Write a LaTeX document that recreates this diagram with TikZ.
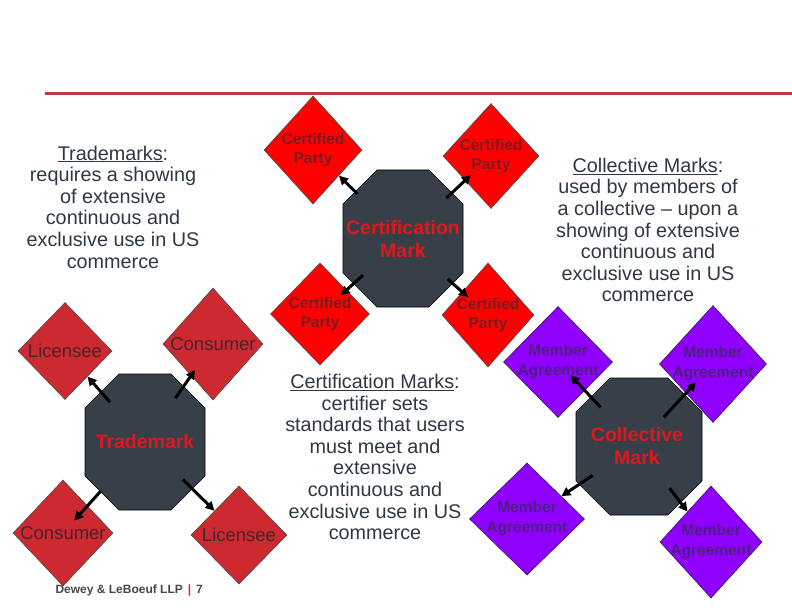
\documentclass[tikz,border=0pt]{standalone}
\usepackage{fontspec}
\setmainfont{Liberation Sans}
\usepackage{tikz}
\usetikzlibrary{positioning,arrows.meta,shapes.geometric}
\usepackage{xcolor}
\definecolor{rulered}{RGB}{192,57,60}
\definecolor{slate}{RGB}{55,64,72}
\definecolor{inkgray}{RGB}{46,56,68}
\definecolor{markred}{RGB}{222,24,30}
\definecolor{tmred}{RGB}{204,41,48}
\definecolor{tmink}{RGB}{72,36,46}
\definecolor{cpred}{RGB}{255,0,0}
\definecolor{cpink}{RGB}{125,26,34}
\definecolor{kmviolet}{RGB}{143,0,255}
\definecolor{kmink}{RGB}{78,32,128}

\begin{document}
\begin{tikzpicture}[x=1pt,y=-1pt,
  every node/.style={font=\fontsize{19.8}{21.6}\selectfont,text=inkgray},
  octo/.style={fill=slate,draw=black,line width=0.6pt},
  markname/.style={circle,minimum size=106pt,inner sep=0pt,align=center,text=markred,font=\fontsize{19.5}{23}\selectfont\bfseries},
  dia/.style={diamond,inner sep=0pt,line width=0.6pt},
  tmdia/.style={dia,draw=black!70,fill=tmred,minimum width=98pt,minimum height=102pt},
  cpdia/.style={dia,draw=black!70,fill=cpred,minimum width=96pt,minimum height=105pt},
  kmdia/.style={dia,draw=kmink!70!black,fill=kmviolet,minimum width=108pt,minimum height=112pt},
  tmlbl/.style={text=tmink,font=\fontsize{18.5}{20}\selectfont},
  cplbl/.style={text=cpink,align=center,font=\fontsize{15.5}{19.5}\selectfont\bfseries},
  kmlbl/.style={text=kmink,align=center,font=\fontsize{15.5}{20}\selectfont\bfseries},
  conn/.style={-{Triangle[length=9pt,width=9pt]},line width=3pt,black}]
\useasboundingbox (0,0) rectangle (792,612);
\draw[rulered,line width=3pt] (45,94) -- (792,94);

\node[align=center] (tmtext) at (113,207) {\underline{Trademarks}:\\requires a showing\\of extensive\\continuous and\\exclusive use in US\\commerce};
\node[align=center] (kmtext) at (648,230) {\underline{Collective Marks}:\\used by members of\\a collective -- upon a\\showing of extensive\\continuous and\\exclusive use in US\\commerce};
\node[align=center] (cmtext) at (375,457) {\underline{Certification Marks}:\\certifier sets\\standards that users\\must meet and\\extensive\\continuous and\\exclusive use in US\\commerce};

\fill[octo] (85,408) -- (119,374) -- (171,374) -- (205,408) -- (205,476) -- (171,510) -- (119,510) -- (85,476) -- cycle;
\node[markname] (tm) at (145,442) {Trademark};
\node[tmdia,minimum width=94pt,minimum height=97pt,label={[tmlbl]center:Licensee}] (lica) at (65,351) {};
\node[tmdia,minimum width=100pt,minimum height=112pt,label={[tmlbl]center:Consumer}] (cona) at (213,344) {};
\node[tmdia,minimum width=100pt,minimum height=106pt,label={[tmlbl]center:Consumer}] (conb) at (63,533) {};
\node[tmdia,minimum width=96pt,minimum height=98pt,label={[tmlbl]center:Licensee}] (licb) at (239,535) {};
\draw[conn] (tm) -- (lica);
\draw[conn,shorten >=-7pt] (tm) -- (cona);
\draw[conn,shorten <=13pt,shorten >=-20pt] (tm) -- (conb);
\draw[conn] (tm) -- (licb);

\fill[octo] (343,204) -- (377,170) -- (429,170) -- (463,204) -- (463,273) -- (429,307) -- (377,307) -- (343,273) -- cycle;
\node[markname] (cm) at (403,239) {Certification\\Mark};
\node[cpdia,minimum width=98pt,minimum height=108pt,label={[cplbl]center:Certified\\Party}] (cpa) at (313,150) {};
\node[cpdia,label={[cplbl]center:Certified\\Party}] (cpb) at (491,156) {};
\node[cpdia,minimum width=99pt,minimum height=102pt,label={[cplbl]center:Certified\\Party}] (cpc) at (320,314) {};
\node[cpdia,minimum width=92pt,minimum height=104pt,label={[cplbl]center:Certified\\Party}] (cpd) at (488,315) {};
\draw[conn,shorten <=4pt] (cm) -- (cpa);
\draw[conn,shorten >=-8pt] (cm) -- (cpb);
\draw[conn,shorten <=-6pt,shorten >=-8pt] (cm) -- (cpc);
\draw[conn,shorten >=-8pt] (cm) -- (cpd);

\fill[octo] (576,412) -- (610,378) -- (668,378) -- (702,412) -- (702,481) -- (668,515) -- (610,515) -- (576,481) -- cycle;
\node[markname] (km) at (637,446) {Collective\\Mark};
\node[kmdia,minimum width=109pt,minimum height=111pt,label={[kmlbl]center:Member\\Agreement}] (maa) at (558,362) {};
\node[kmdia,minimum width=107pt,minimum height=117pt,label={[kmlbl]center:Member\\Agreement}] (mab) at (713,364) {};
\node[kmdia,minimum width=115pt,minimum height=112pt,label={[kmlbl]center:Member\\Agreement}] (mac) at (527,519) {};
\node[kmdia,minimum width=102pt,minimum height=112pt,label={[kmlbl]center:Member\\Agreement}] (mad) at (711,542) {};
\draw[conn,shorten >=-21pt] (km) -- (maa);
\draw[conn,shorten <=-14pt,shorten >=-15pt] (km) -- (mab);
\draw[conn] (km) -- (mac);
\draw[conn] (km) -- (mad);

\node[anchor=west,text=black!72,font=\fontsize{12}{14}\selectfont\bfseries] (foot) at (52,590) {Dewey \& LeBoeuf LLP\hspace{5pt}{\color{rulered}\textbar}\hspace{5pt}7};
\end{tikzpicture}
\end{document}
